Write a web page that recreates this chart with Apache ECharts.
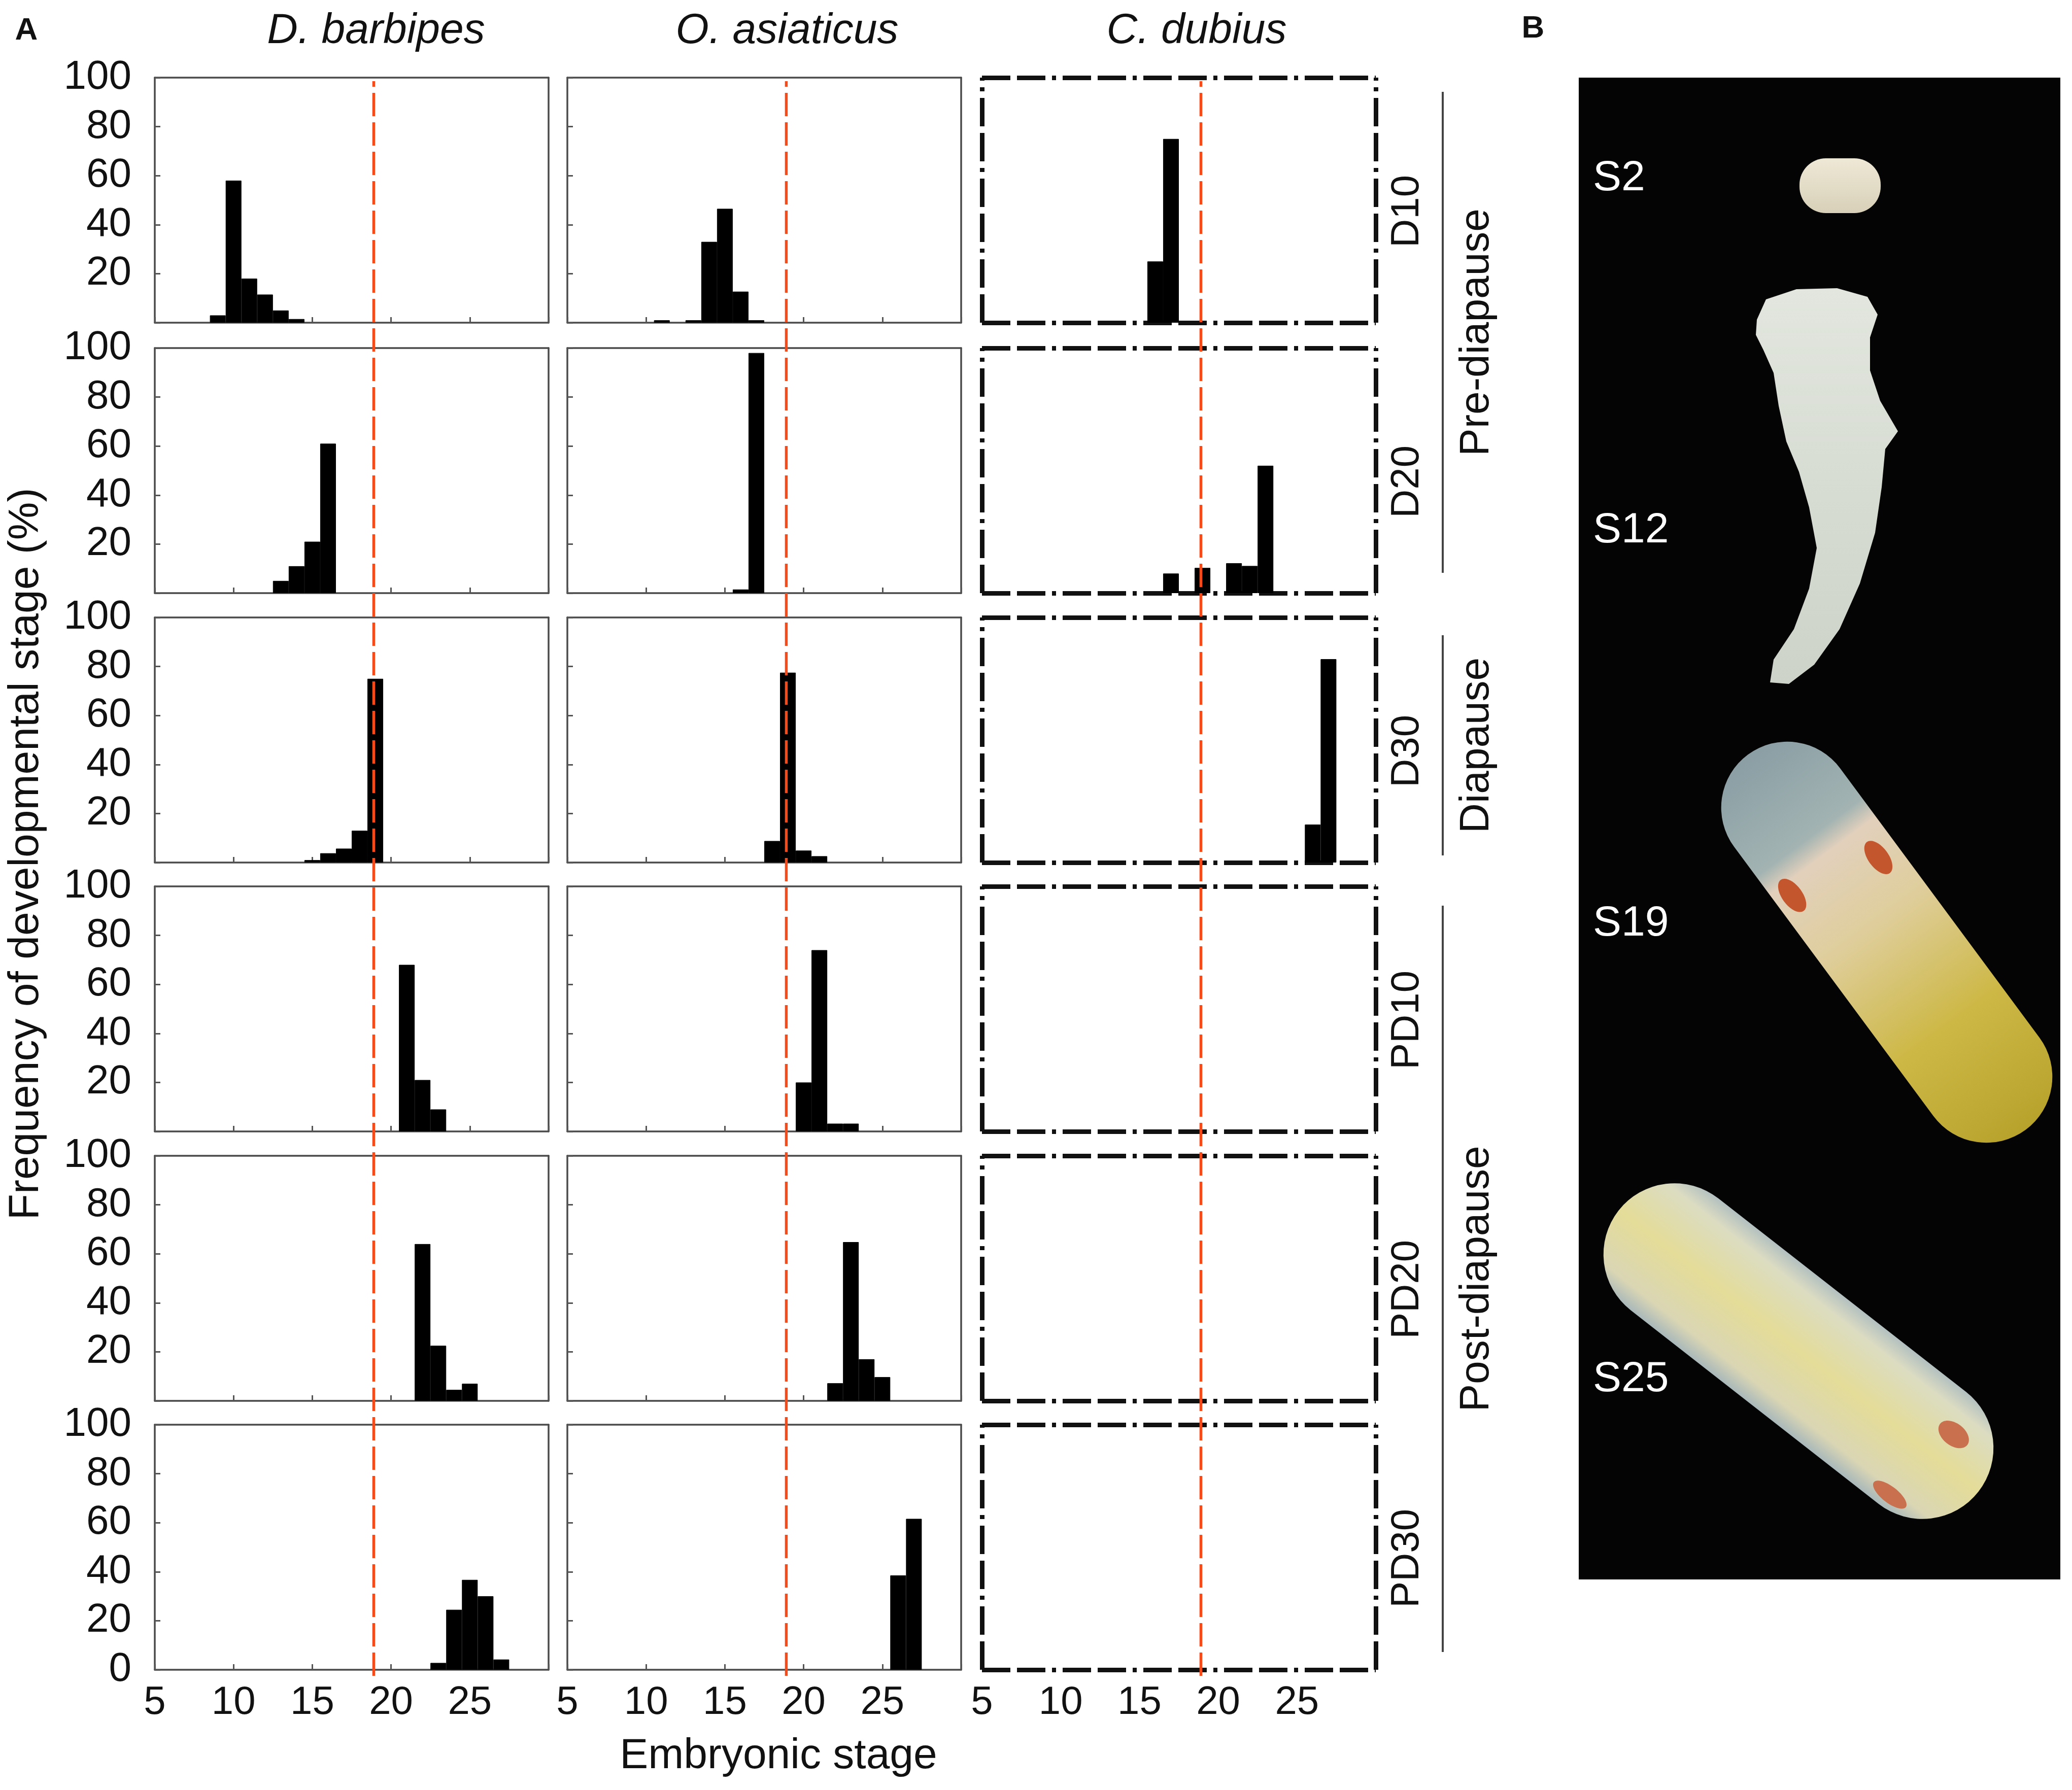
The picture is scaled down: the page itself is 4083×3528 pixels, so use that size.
<!DOCTYPE html>
<html>
<head>
<meta charset="utf-8">
<title>Embryonic stage frequency</title>
<script src="https://cdn.jsdelivr.net/npm/echarts@6/dist/echarts.min.js"></script>
<style>
  html, body { margin: 0; padding: 0; background: #fff; }
  #main { width: 4083px; height: 3528px; }
</style>
</head>
<body>
<div id="main"></div>
<script>
// 物种与取样时间
var species = ['D. barbipes', 'O. asiaticus', 'C. dubius'];
var periods = ['D10', 'D20', 'D30', 'PD10', 'PD20', 'PD30'];
var phases = ['Pre-diapause', 'Diapause', 'Post-diapause'];
var stageLabels = ['S2', 'S12', 'S19', 'S25'];
var xTicks = [5, 10, 15, 20, 25];
var diapauseStage = 18.9;

// [胚胎期, 频率 %]
var dbD10 = [[9, 3], [10, 58], [11, 18], [12, 11.5], [13, 5], [14, 1.5]];
var dbD20 = [[13, 5], [14, 11], [15, 21], [16, 61]];
var dbD30 = [[15, 1], [16, 3.8], [17, 5.7], [18, 13], [19, 75]];
var dbPD10 = [[21, 68], [22, 21], [23, 9]];
var dbPD20 = [[22, 64], [23, 22.5], [24, 4.5], [25, 7]];
var dbPD30 = [[23, 2.8], [24, 24.5], [25, 36.7], [26, 30], [27, 4.2]];

var oaD10 = [[11, 1], [13, 1], [14, 33], [15, 46.5], [16, 12.7], [17, 1]];
var oaD20 = [[16, 1.5], [17, 98]];
var oaD30 = [[18, 8.8], [19, 77.5], [20, 4.9], [21, 2.6]];
var oaPD10 = [[20, 20], [21, 74], [22, 3.2], [23, 3.2]];
var oaPD20 = [[22, 7.2], [23, 64.8], [24, 17], [25, 9.7]];
var oaPD30 = [[26, 38.5], [27, 61.6]];

var cdD10 = [[16, 25], [17, 75]];
var cdD20 = [[17, 8], [19, 10.3], [21, 12.2], [22, 11.1], [23, 52]];
var cdD30 = [[26, 15.5], [27, 83]];
var cdPD10 = [];
var cdPD20 = [];
var cdPD30 = [];

var panelData = [
  [dbD10, oaD10, cdD10],
  [dbD20, oaD20, cdD20],
  [dbD30, oaD30, cdD30],
  [dbPD10, oaPD10, cdPD10],
  [dbPD20, oaPD20, cdPD20],
  [dbPD30, oaPD30, cdPD30]
];

// 版面
var FONT = '"Liberation Sans", Arial, sans-serif';
var PW = 776, PH = 483;
var colLeft = [305, 1118, 1935];
var rowTop = [153, 686, 1217, 1747, 2278, 2808];

var solidFrame = { show: true, onZero: false, lineStyle: { color: '#4a4a4a', width: 3.5 } };
var dashFrame = { show: true, onZero: false, lineStyle: { color: '#111', width: 9, type: [56, 13, 56, 13, 8, 13], cap: 'butt' } };
var inTick = { show: true, inside: true, length: 11, lineStyle: { color: '#555', width: 3 } };

var grids = [], xAxes = [], yAxes = [], series = [];

for (var r = 0; r < periods.length; r++) {
  for (var c = 0; c < species.length; c++) {
    var g = grids.length;
    var lastRow = r === periods.length - 1;
    var frame = c === 2 ? dashFrame : solidFrame;
    var ticks = c === 2 ? { show: false } : inTick;
    grids.push({ left: colLeft[c], top: rowTop[r], width: PW, height: PH });

    xAxes.push({
      type: 'value', gridIndex: g, position: 'bottom', min: 5, max: 30, interval: 5,
      axisLine: frame, axisTick: ticks, splitLine: { show: false },
      axisLabel: {
        show: lastRow, margin: 26, fontSize: 78, color: '#111', fontFamily: FONT,
        formatter: function (v) { return xTicks.indexOf(v) >= 0 ? String(v) : ''; }
      }
    });
    xAxes.push({
      type: 'value', gridIndex: g, position: 'top', min: 5, max: 30,
      axisLine: frame, axisTick: { show: false }, axisLabel: { show: false }, splitLine: { show: false }
    });
    yAxes.push({
      type: 'value', gridIndex: g, position: 'left', min: 0, max: 100, interval: 20,
      axisLine: frame, axisTick: ticks, splitLine: { show: false },
      axisLabel: {
        show: c === 0, margin: 46, fontSize: 80, color: '#111', fontFamily: FONT,
        formatter: (function (last) {
          return function (v) { return (v === 0 && !last) ? '' : String(v); };
        })(lastRow)
      }
    });
    yAxes.push({
      type: 'value', gridIndex: g, position: 'right', min: 0, max: 100,
      axisLine: frame, axisTick: { show: false }, axisLabel: { show: false }, splitLine: { show: false }
    });

    series.push({
      type: 'bar', xAxisIndex: 2 * g, yAxisIndex: 2 * g,
      data: panelData[r][c], barWidth: PW / 25, silent: true,
      itemStyle: { color: '#000', borderColor: '#000', borderWidth: 1 }
    });
  }
}

// 滞育期红色虚线，每列一个通高的网格
for (var k = 0; k < species.length; k++) {
  var gi = grids.length;
  grids.push({ left: colLeft[k], top: 160, width: PW, height: 3303 - 160 });
  xAxes.push({ type: 'value', gridIndex: gi, min: 5, max: 30, show: false });
  yAxes.push({ type: 'value', gridIndex: gi, min: 0, max: 1, show: false });
  series.push({
    type: 'line', xAxisIndex: xAxes.length - 1, yAxisIndex: yAxes.length - 1,
    data: [[diapauseStage, 0], [diapauseStage, 1]], symbol: 'none', silent: true, z: 10,
    lineStyle: { color: '#F54A1A', width: 5.5, type: [46, 12] }
  });
}

// 文字与B图
var textStyle = function (txt, size, extra) {
  var s = { text: txt, font: size + 'px ' + FONT, fill: '#111', textAlign: 'center', textVerticalAlign: 'middle' };
  for (var key in extra) s[key] = extra[key];
  return s;
};

var graphics = [];
graphics.push({ type: 'text', x: 52, y: 61, style: textStyle('A', 62, { font: 'bold 62px ' + FONT }) });
graphics.push({ type: 'text', x: 3021, y: 57, style: textStyle('B', 62, { font: 'bold 62px ' + FONT }) });

var titleX = [741, 1551, 2358];
species.forEach(function (name, i) {
  graphics.push({ type: 'text', x: titleX[i], y: 62, style: textStyle(name, 84, { font: 'italic 84px ' + FONT }) });
});

graphics.push({ type: 'text', x: 52, y: 1683, rotation: Math.PI / 2, style: textStyle('Frequency of developmental stage (%)', 84) });
graphics.push({ type: 'text', x: 1534, y: 3462, style: textStyle('Embryonic stage', 84) });

periods.forEach(function (p, i) {
  graphics.push({ type: 'text', x: 2773, y: rowTop[i] + PH / 2 + 22, rotation: Math.PI / 2, style: textStyle(p, 78) });
});

var phaseLines = [[181, 1129], [1252, 1686], [1785, 3256]];
phases.forEach(function (p, i) {
  var seg = phaseLines[i];
  graphics.push({ type: 'line', shape: { x1: 2843, y1: seg[0], x2: 2843, y2: seg[1] }, style: { stroke: '#444', lineWidth: 4 } });
  graphics.push({ type: 'text', x: 2910, y: (seg[0] + seg[1]) / 2, rotation: Math.PI / 2, style: textStyle(p, 82) });
});

// B: 胚胎照片的示意
graphics.push({ type: 'rect', shape: { x: 3111, y: 153, width: 949, height: 2960 }, style: { fill: '#040404' } });

graphics.push({
  type: 'rect', shape: { x: 3546, y: 312, width: 160, height: 108, r: 52 },
  style: { fill: new echarts.graphic.LinearGradient(0, 0, 0, 1, [{ offset: 0, color: '#EEE8D6' }, { offset: 1, color: '#D8D0B8' }]) }
});

graphics.push({
  type: 'polygon', smooth: 0.25,
  shape: {
    points: [[3462, 630], [3480, 590], [3540, 570], [3620, 568], [3680, 585], [3700, 620], [3685, 665],
      [3685, 730], [3705, 790], [3740, 850], [3715, 885], [3708, 960], [3695, 1050], [3665, 1150],
      [3625, 1240], [3575, 1310], [3525, 1348], [3488, 1345], [3495, 1300], [3535, 1240], [3565, 1160],
      [3580, 1080], [3565, 1000], [3545, 930], [3520, 870], [3505, 800], [3495, 735], [3475, 690], [3460, 660]]
  },
  style: { fill: new echarts.graphic.LinearGradient(0, 0, 0, 1, [{ offset: 0, color: '#E2E6DE' }, { offset: 1, color: '#CDD3C9' }]) }
});

graphics.push({
  type: 'group', x: 3718, y: 1857, rotation: -53.5 * Math.PI / 180,
  children: [
    {
      type: 'rect', shape: { x: -460, y: -130, width: 920, height: 260, r: 130 },
      style: {
        fill: new echarts.graphic.LinearGradient(0, 0, 1, 0, [
          { offset: 0, color: '#8A9EA4' }, { offset: 0.22, color: '#A2B3B2' },
          { offset: 0.27, color: '#E2D0BC' }, { offset: 0.45, color: '#DFCE9C' },
          { offset: 0.72, color: '#CDB846' }, { offset: 1, color: '#B7A32C' }
        ])
      }
    },
    { type: 'ellipse', shape: { cx: -185, cy: 95, rx: 38, ry: 20 }, style: { fill: '#C4562E' } },
    { type: 'ellipse', shape: { cx: -144, cy: -86, rx: 38, ry: 20 }, style: { fill: '#C4562E' } }
  ]
});

graphics.push({
  type: 'group', x: 3544, y: 2663, rotation: -38 * Math.PI / 180,
  children: [
    {
      type: 'rect', shape: { x: -450, y: -140, width: 900, height: 280, r: 140 },
      style: {
        fill: new echarts.graphic.LinearGradient(0, 0, 0, 1, [
          { offset: 0, color: '#B3C0C0' }, { offset: 0.14, color: '#DCDCC2' },
          { offset: 0.5, color: '#E4DC98' }, { offset: 0.86, color: '#DAD6B4' },
          { offset: 1, color: '#A9B8BA' }
        ])
      }
    },
    { type: 'ellipse', shape: { cx: 342, cy: -59, rx: 34, ry: 22 }, style: { fill: '#C9704E' } },
    { type: 'ellipse', shape: { cx: 316, cy: 112, rx: 40, ry: 16 }, style: { fill: '#C9704E' } }
  ]
});

var stageLabelY = [352, 1046, 1821, 2719];
stageLabels.forEach(function (s, i) {
  graphics.push({ type: 'text', x: 3139, y: stageLabelY[i], style: textStyle(s, 84, { fill: '#fff', textAlign: 'left' }) });
});

var chart = echarts.init(document.getElementById('main'), null, { renderer: 'canvas', width: 4083, height: 3528 });
chart.setOption({
  animation: false,
  backgroundColor: '#fff',
  grid: grids,
  xAxis: xAxes,
  yAxis: yAxes,
  series: series,
  graphic: graphics
});
</script>
</body>
</html>
